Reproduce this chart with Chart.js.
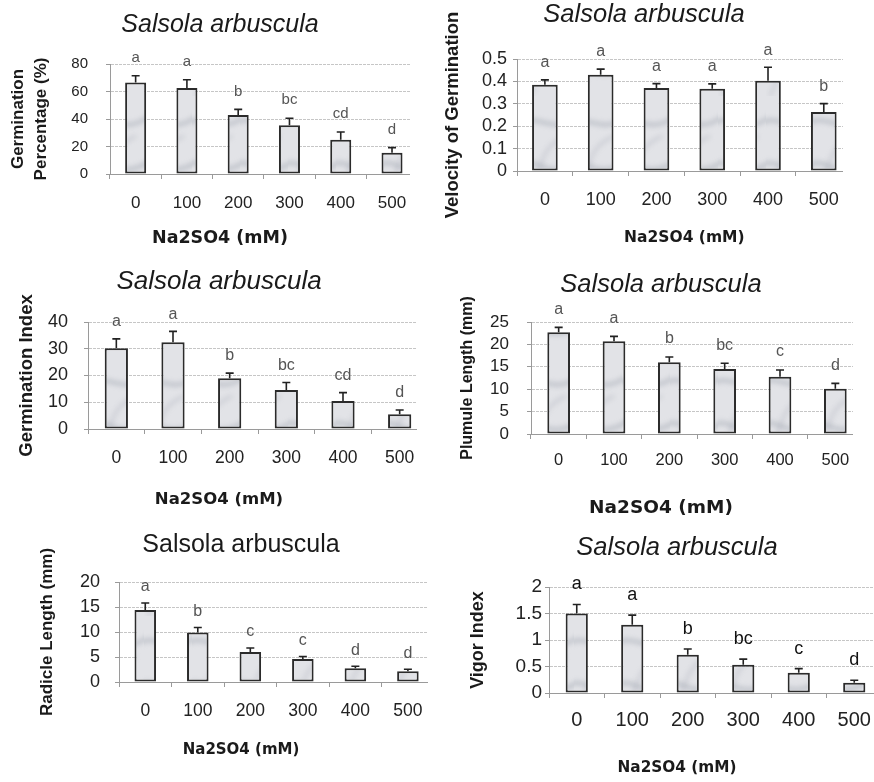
<!DOCTYPE html>
<html>
<head>
<meta charset="utf-8">
<title>Salsola arbuscula - Na2SO4</title>
<script src="https://cdn.jsdelivr.net/npm/chart.js@4/dist/chart.umd.min.js"></script>
<style>
  body { margin: 0; background: #fff; }
  #fig { position: relative; width: 874px; height: 782px; overflow: hidden; background: #fff; }
  .panel { position: absolute; overflow: hidden; }
  .panel canvas { position: absolute; top: 0; left: 0; }
</style>
</head>
<body>
<div id="fig"></div>
<script>
// --- data ---
const doses = ['0', '100', '200', '300', '400', '500'];
const speciesName = 'Salsola arbuscula';
const xAxisName = 'Na2SO4 (mM)';

const germPct = [66.5, 62.5, 43, 35.5, 25, 15.5];
const germPctErr = [5, 6, 4, 5, 5.5, 3.7];
const germPctLetters = ['a', 'a', 'b', 'bc', 'cd', 'd'];

const velocity = [0.385, 0.43, 0.37, 0.367, 0.403, 0.263];
const velocityErr = [0.022, 0.025, 0.02, 0.022, 0.06, 0.038];
const velocityLetters = ['a', 'a', 'a', 'a', 'a', 'b'];

const germIndex = [30.2, 32.4, 19, 14.6, 10.5, 5.5];
const germIndexErr = [3.5, 4.1, 1.9, 2.8, 3.1, 1.6];
const germIndexLetters = ['a', 'a', 'b', 'bc', 'cd', 'd'];

const plumule = [22.7, 20.7, 16.0, 14.5, 12.8, 10.1];
const plumuleErr = [1.1, 1.1, 1.2, 1.3, 1.5, 1.2];
const plumuleLetters = ['a', 'a', 'b', 'bc', 'c', 'd'];

const radicle = [14.4, 9.9, 6.0, 4.6, 2.75, 2.15];
const radicleErr = [1.4, 1.0, 0.8, 0.5, 0.4, 0.4];
const radicleLetters = ['a', 'b', 'c', 'c', 'd', 'd'];

const vigor = [1.5, 1.29, 0.72, 0.535, 0.38, 0.195];
const vigorErr = [0.17, 0.18, 0.11, 0.105, 0.08, 0.045];
const vigorLetters = ['a', 'a', 'b', 'bc', 'c', 'd'];

const TICK_FONT = 'Liberation Sans, Arial, sans-serif';
const XTITLE_FONT = 'DejaVu Sans, sans-serif';

// marbled grey fill used by every bar
function makeBarPattern() {
    const c = document.createElement('canvas');
    c.width = 48;
    c.height = 96;
    const g = c.getContext('2d');
    g.fillStyle = '#e2e3e7';
    g.fillRect(0, 0, 48, 96);
    g.filter = 'blur(2.5px)';
    g.strokeStyle = 'rgba(135,141,156,0.38)';
    g.lineWidth = 4;
    g.beginPath();
    g.moveTo(-8, 30); g.bezierCurveTo(10, 12, 26, 44, 56, 18);
    g.stroke();
    g.beginPath();
    g.moveTo(-8, 70); g.bezierCurveTo(14, 58, 20, 88, 56, 64);
    g.stroke();
    g.lineWidth = 2.5;
    g.strokeStyle = 'rgba(145,150,165,0.32)';
    g.beginPath();
    g.moveTo(4, 96); g.bezierCurveTo(18, 70, 12, 52, 40, 40);
    g.stroke();
    return g.createPattern(c, 'repeat');
}
const barFill = makeBarPattern();

function errorBarPlugin(p) {
    return {
        id: 'errorBars',
        afterDatasetsDraw(chart) {
            const ctx = chart.ctx;
            const y = chart.scales.y;
            const meta = chart.getDatasetMeta(0);
            ctx.save();
            meta.data.forEach((bar, i) => {
                const top = y.getPixelForValue(p.values[i] + p.errors[i]);
                const base = y.getPixelForValue(p.values[i]);
                ctx.strokeStyle = '#222';
                ctx.lineWidth = 1.6;
                ctx.beginPath();
                ctx.moveTo(bar.x, base);
                ctx.lineTo(bar.x, top);
                ctx.moveTo(bar.x - 4, top);
                ctx.lineTo(bar.x + 4, top);
                ctx.stroke();
                ctx.fillStyle = p.letterColor || '#555';
                ctx.font = (p.letterSize || 15) + 'px ' + TICK_FONT;
                ctx.textAlign = 'center';
                ctx.textBaseline = 'middle';
                ctx.fillText(p.letters[i], bar.x, top - p.gap);
            });
            ctx.restore();
        }
    };
}

function buildPanel(p) {
    const fig = document.getElementById('fig');
    const leftBox = 2 * p.cx - p.R;
    const W = Math.ceil(p.R - p.x0);
    const padLeft = leftBox - p.x0;

    const tLH = p.titleSize * 1.2;
    const tTop = p.titleCy - p.y0 - tLH / 2;
    const tBottom = p.T - p.y0 - tTop - tLH;

    const xLH = p.xTitleSize * 1.2;
    const bottomEdge = p.y0 + p.H;
    const xTitleFont = { family: XTITLE_FONT, size: p.xTitleSize, weight: 'bold', lineHeight: 1.2 };
    let subtitle = { display: false };
    let xTitle = { display: false };
    let xScaleH;
    if (p.xTitleMode === 'sub') {
        const pb = bottomEdge - p.xTitleCy - xLH / 2;
        subtitle = {
            display: true, position: 'bottom', text: xAxisName, color: '#1a1a1a',
            font: xTitleFont, padding: { top: 0, bottom: pb }
        };
        xScaleH = bottomEdge - p.B - xLH - pb;
    } else {
        xScaleH = bottomEdge - p.B;
        xTitle = {
            display: true, text: xAxisName, color: '#1a1a1a', font: xTitleFont,
            padding: { top: 0, bottom: bottomEdge - p.xTitleCy - xLH / 2 }
        };
    }

    const yLH = p.yTitleSize * (p.yTitleLH || 1.2);
    const yTitlePad = p.yTitleX - leftBox - yLH / 2;

    const wrap = document.createElement('div');
    wrap.className = 'panel';
    wrap.style.left = p.x0 + 'px';
    wrap.style.top = p.y0 + 'px';
    wrap.style.width = p.clipW + 'px';
    wrap.style.height = p.H + 'px';
    const cv = document.createElement('canvas');
    cv.width = W;
    cv.height = p.H;
    cv.style.width = W + 'px';
    cv.style.height = p.H + 'px';
    wrap.appendChild(cv);
    fig.appendChild(wrap);

    return new Chart(cv.getContext('2d'), {
        type: 'bar',
        data: {
            labels: doses,
            datasets: [{
                data: p.values,
                backgroundColor: barFill,
                borderColor: '#2b2b2b',
                borderWidth: 2,
                borderSkipped: false,
                barPercentage: p.barPct,
                categoryPercentage: 1
            }]
        },
        options: {
            responsive: false,
            animation: false,
            layout: { padding: { left: padLeft, right: 0, top: 0, bottom: 0 } },
            plugins: {
                legend: { display: false },
                tooltip: { enabled: false },
                title: {
                    display: true,
                    text: speciesName,
                    color: '#1a1a1a',
                    font: { family: TICK_FONT, size: p.titleSize, style: p.titleStyle, weight: 'normal', lineHeight: 1.2 },
                    padding: { top: tTop, bottom: tBottom }
                },
                subtitle: subtitle
            },
            scales: {
                x: {
                    offset: true,
                    grid: { display: true, offset: true, drawOnChartArea: false, drawTicks: true, tickLength: 5, tickColor: '#9a9a9a' },
                    border: { display: true, color: '#9a9a9a', width: 1 },
                    ticks: {
                        color: '#222',
                        font: { family: TICK_FONT, size: p.xtSize },
                        padding: p.xtCy - p.B - 5 - p.xtSize * 0.6,
                        maxRotation: 0,
                        autoSkip: false
                    },
                    title: xTitle,
                    afterFit: s => { s.height = xScaleH; }
                },
                y: {
                    min: 0,
                    max: p.yMax,
                    grid: { color: '#c6c6c6', lineWidth: 1, drawTicks: true, tickLength: 4, tickColor: '#9a9a9a' },
                    border: { display: true, color: '#9a9a9a', width: 1, dash: [3, 1] },
                    ticks: {
                        stepSize: p.yStep,
                        autoSkip: false,
                        color: '#222',
                        font: { family: TICK_FONT, size: p.ytSize },
                        padding: p.L - p.ytRight - 4,
                        callback: v => String(Math.round(v * 100) / 100)
                    },
                    title: {
                        display: true,
                        text: p.yTitle,
                        color: '#1a1a1a',
                        font: { family: TICK_FONT, size: p.yTitleSize, weight: 'bold', lineHeight: p.yTitleLH || 1.2 },
                        padding: { top: yTitlePad, bottom: 0 }
                    },
                    afterFit: s => { s.width = p.L - leftBox; }
                }
            }
        },
        plugins: [errorBarPlugin(p)]
    });
}

buildPanel({
    values: germPct, errors: germPctErr, letters: germPctLetters,
    x0: 0, y0: 0, H: 258, clipW: 410,
    L: 110, R: 420, T: 64, B: 174, cx: 220,
    titleCy: 25, titleSize: 25, titleStyle: 'italic',
    xTitleMode: 'sub', xTitleCy: 238, xTitleSize: 17.5,
    yTitle: ['Germination', 'Percentage (%)'], yTitleX: 18, yTitleSize: 17, yTitleLH: 1.4,
    ytSize: 15, ytRight: 88, xtSize: 17, xtCy: 203,
    yMax: 80, yStep: 20, barPct: 0.41, letterSize: 15, gap: 18
});

buildPanel({
    values: velocity, errors: velocityErr, letters: velocityLetters,
    x0: 430, y0: 0, H: 258, clipW: 413,
    L: 517, R: 852, T: 59, B: 171, cx: 644,
    titleCy: 15, titleSize: 25.5, titleStyle: 'italic',
    xTitleMode: 'scale', xTitleCy: 238, xTitleSize: 15.5,
    yTitle: 'Velocity of Germination', yTitleX: 453, yTitleSize: 18.5,
    ytSize: 18, ytRight: 507, xtSize: 18, xtCy: 200,
    yMax: 0.5, yStep: 0.1, barPct: 0.46, letterSize: 16, gap: 17
});

buildPanel({
    values: germIndex, errors: germIndexErr, letters: germIndexLetters,
    x0: 0, y0: 260, H: 260, clipW: 417,
    L: 88, R: 428, T: 322, B: 429, cx: 219,
    titleCy: 282, titleSize: 26, titleStyle: 'italic',
    xTitleMode: 'sub', xTitleCy: 500, xTitleSize: 16.5,
    yTitle: 'Germination Index', yTitleX: 27, yTitleSize: 18.5,
    ytSize: 18, ytRight: 68, xtSize: 17.5, xtCy: 458,
    yMax: 40, yStep: 10, barPct: 0.41, letterSize: 16, gap: 17
});

buildPanel({
    values: plumule, errors: plumuleErr, letters: plumuleLetters,
    x0: 430, y0: 260, H: 260, clipW: 423,
    L: 531, R: 863, T: 322, B: 434, cx: 661,
    titleCy: 285, titleSize: 25.5, titleStyle: 'italic',
    xTitleMode: 'sub', xTitleCy: 508, xTitleSize: 18.5,
    yTitle: 'Plumule Length (mm)', yTitleX: 468, yTitleSize: 16,
    ytSize: 17, ytRight: 509, xtSize: 16.5, xtCy: 460,
    yMax: 25, yStep: 5, barPct: 0.41, letterSize: 16, gap: 18
});

buildPanel({
    values: radicle, errors: radicleErr, letters: radicleLetters,
    x0: 0, y0: 520, H: 262, clipW: 428,
    L: 119, R: 436, T: 582, B: 682, cx: 241,
    titleCy: 545, titleSize: 25, titleStyle: 'normal',
    xTitleMode: 'sub', xTitleCy: 750, xTitleSize: 15,
    yTitle: 'Radicle Length (mm)', yTitleX: 47, yTitleSize: 17,
    ytSize: 18, ytRight: 100, xtSize: 17.5, xtCy: 711,
    yMax: 20, yStep: 5, barPct: 0.41, letterSize: 16, gap: 16
});

buildPanel({
    values: vigor, errors: vigorErr, letters: vigorLetters,
    x0: 430, y0: 520, H: 262, clipW: 444,
    L: 549, R: 882, T: 587, B: 693, cx: 677,
    titleCy: 548, titleSize: 25.5, titleStyle: 'italic',
    xTitleMode: 'sub', xTitleCy: 768, xTitleSize: 15.3,
    yTitle: 'Vigor Index', yTitleX: 478, yTitleSize: 18,
    ytSize: 19, ytRight: 542, xtSize: 20, xtCy: 720,
    yMax: 2, yStep: 0.5, barPct: 0.40, letterSize: 18, letterColor: '#111', gap: 20
});
</script>
</body>
</html>
